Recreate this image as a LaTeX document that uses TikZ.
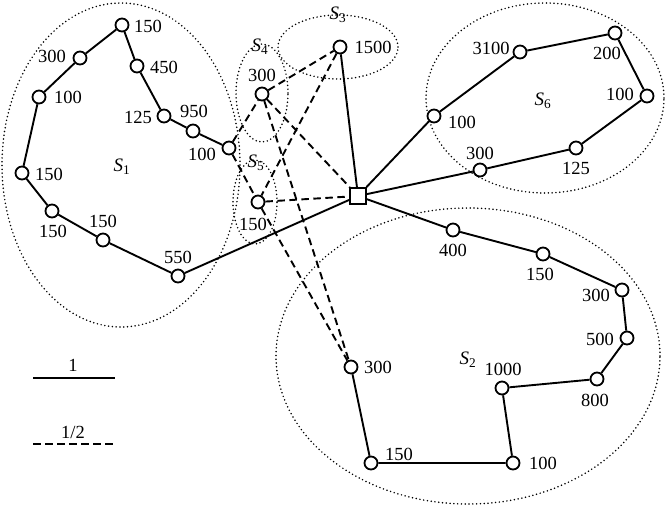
\documentclass[tikz,border=0pt]{standalone}
\usepackage{fontspec}
\setmainfont{Liberation Serif}
\tikzset{
  vx/.style={circle, draw, fill=white, line width=1.8pt, minimum size=13pt, inner sep=0pt},
  hub/.style={rectangle, draw, fill=white, line width=1.8pt, minimum size=16pt, inner sep=0pt},
  lbl/.style={font=\fontsize{18.5}{20}\selectfont, inner sep=0pt},
  setname/.style={font=\fontsize{19}{21}\selectfont, inner sep=0pt},
  full/.style={line width=1.9pt},
  half/.style={line width=1.9pt, dash pattern=on 7.5pt off 4.5pt},
  grp/.style={line width=1.7pt, dash pattern=on 0pt off 3.8pt, line cap=round}
}
\newcommand{\Sname}[1]{{\itshape S}\textsubscript{#1}}
\begin{document}
\begin{tikzpicture}[x=1pt,y=-1pt]
\useasboundingbox (0,0) rectangle (671,509);
% group ellipses
\draw[grp] (121,165) ellipse [x radius=119pt, y radius=162pt];
\draw[grp] (468,356) ellipse [x radius=192pt, y radius=148pt];
\draw[grp] (545,98) ellipse [x radius=119pt, y radius=95pt];
\draw[grp] (338,47) ellipse [x radius=60pt, y radius=32pt];
\draw[grp] (262,93) ellipse [x radius=26pt, y radius=49pt];
\draw[grp] (255,202) ellipse [x radius=22pt, y radius=42pt];
% set names
\node[setname] (n1) at (122,167) {\Sname{1}};
\node[setname] (n2) at (468,360) {\Sname{2}};
\node[setname] (n3) at (338,15) {\Sname{3}};
\node[setname] (n4) at (260,47) {\Sname{4}};
\node[setname] (n5) at (256,163) {\Sname{5}};
\node[setname] (n6) at (543,101) {\Sname{6}};
% S1 vertices
\node[vx] (a1) at (122,25) {};
\node[vx] (a2) at (80,58) {};
\node[vx] (a3) at (39,97) {};
\node[vx] (a4) at (22,173) {};
\node[vx] (a5) at (52,211) {};
\node[vx] (a6) at (103,240) {};
\node[vx] (a7) at (178,276) {};
\node[vx] (b1) at (137,66) {};
\node[vx] (b2) at (164,116) {};
\node[vx] (b3) at (193,131) {};
\node[vx] (b4) at (229,148) {};
% S4, S3, S5
\node[vx] (c1) at (262,94) {};
\node[vx] (d1) at (340,47) {};
\node[vx] (e1) at (258,202) {};
% hub
\node[hub] (sq) at (358,196) {};
% S6
\node[vx] (f1) at (434,116) {};
\node[vx] (f2) at (520,52) {};
\node[vx] (f3) at (615,33) {};
\node[vx] (f4) at (647,96) {};
\node[vx] (f5) at (576,148) {};
\node[vx] (f6) at (480,170) {};
% S2
\node[vx] (g1) at (453,230) {};
\node[vx] (g2) at (543,254) {};
\node[vx] (g3) at (622,290) {};
\node[vx] (g4) at (627,338) {};
\node[vx] (g5) at (597,379) {};
\node[vx] (g6) at (502,388) {};
\node[vx] (g7) at (513,463) {};
\node[vx] (g8) at (371,463) {};
\node[vx] (g9) at (351,367) {};
% solid connectors
\draw[full] (a1) -- (a2) -- (a3) -- (a4) -- (a5) -- (a6) -- (a7) -- (sq);
\draw[full] (a1) -- (b1) -- (b2) -- (b3) -- (b4);
\draw[full] (d1) -- (sq);
\draw[full] (sq) -- (f1) -- (f2) -- (f3) -- (f4) -- (f5) -- (f6) -- (sq);
\draw[full] (sq) -- (g1) -- (g2) -- (g3) -- (g4) -- (g5) -- (g6) -- (g7) -- (g8) -- (g9);
% dashed connectors
\draw[half] (b4) -- (c1);
\draw[half] (b4) -- (e1);
\draw[half] (c1) -- (d1);
\draw[half] (c1) -- (sq);
\draw[half] (c1) -- (g9);
\draw[half] (d1) -- (e1);
\draw[half] (e1) -- (sq);
\draw[half] (e1) -- (g9);
% labels
\node[lbl] (la1) at (148,26) {150};
\node[lbl] (la2) at (52,56) {300};
\node[lbl] (la3) at (68,97) {100};
\node[lbl] (la4) at (49,174) {150};
\node[lbl] (la5) at (53,231) {150};
\node[lbl] (la6) at (103,221) {150};
\node[lbl] (la7) at (178,257) {550};
\node[lbl] (lb1) at (164,67) {450};
\node[lbl] (lb2) at (138,117) {125};
\node[lbl] (lb3) at (194,111) {950};
\node[lbl] (lb4) at (202,154) {100};
\node[lbl] (lc1) at (262,75) {300};
\node[lbl] (ld1) at (373,47) {1500};
\node[lbl] (le1) at (253,224) {150};
\node[lbl] (lf1) at (462,122) {100};
\node[lbl] (lf2) at (491,48) {3100};
\node[lbl] (lf3) at (607,53) {200};
\node[lbl] (lf4) at (620,94) {100};
\node[lbl] (lf5) at (576,168) {125};
\node[lbl] (lf6) at (480,153) {300};
\node[lbl] (lg1) at (453,250) {400};
\node[lbl] (lg2) at (540,274) {150};
\node[lbl] (lg3) at (596,295) {300};
\node[lbl] (lg4) at (600,339) {500};
\node[lbl] (lg5) at (595,400) {800};
\node[lbl] (lg6) at (503,369) {1000};
\node[lbl] (lg7) at (543,463) {100};
\node[lbl] (lg8) at (399,454) {150};
\node[lbl] (lg9) at (378,367) {300};
% legend
\coordinate (k1a) at (33,378);
\coordinate (k1b) at (115,378);
\coordinate (k2a) at (33,444);
\coordinate (k2b) at (113,444);
\draw[full] (k1a) -- (k1b);
\draw[half] (k2a) -- (k2b);
\node[lbl] (lk1) at (73,365) {1};
\node[lbl] (lk2) at (73,432) {1/2};
\end{tikzpicture}
\end{document}
